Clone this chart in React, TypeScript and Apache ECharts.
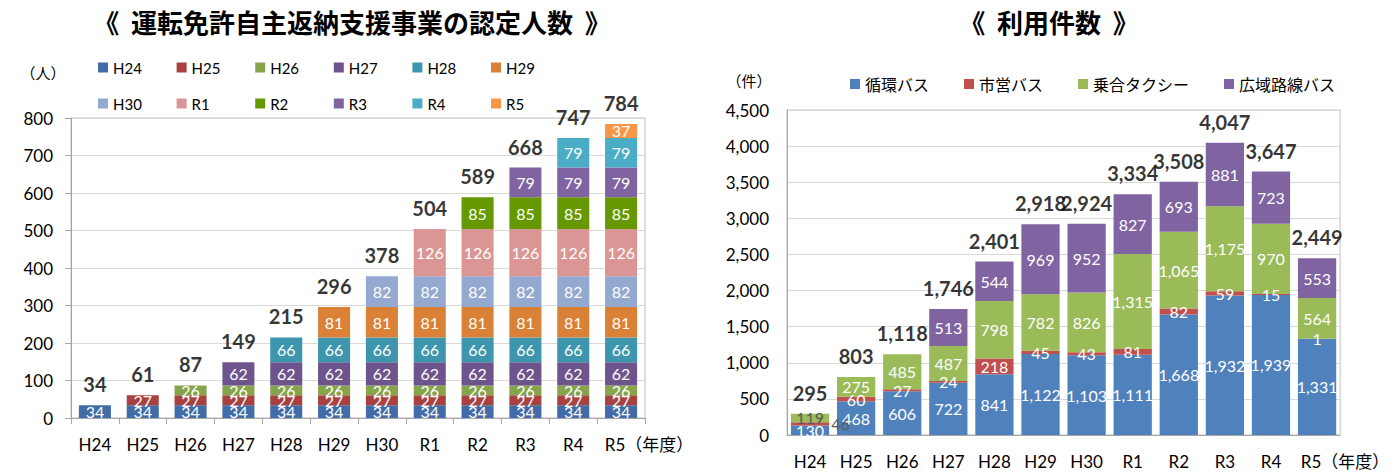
import React, { useEffect, useRef } from "react";
import * as echarts from "echarts";

const years = ["H24", "H25", "H26", "H27", "H28", "H29", "H30", "R1", "R2", "R3", "R4", "R5"];

// 運転免許自主返納支援事業の認定人数 (cohort series)
const cohortNames = ["H24", "H25", "H26", "H27", "H28", "H29", "H30", "R1", "R2", "R3", "R4", "R5"];
const cH24 = [34, 34, 34, 34, 34, 34, 34, 34, 34, 34, 34, 34];
const cH25 = [null, 27, 27, 27, 27, 27, 27, 27, 27, 27, 27, 27];
const cH26 = [null, null, 26, 26, 26, 26, 26, 26, 26, 26, 26, 26];
const cH27 = [null, null, null, 62, 62, 62, 62, 62, 62, 62, 62, 62];
const cH28 = [null, null, null, null, 66, 66, 66, 66, 66, 66, 66, 66];
const cH29 = [null, null, null, null, null, 81, 81, 81, 81, 81, 81, 81];
const cH30 = [null, null, null, null, null, null, 82, 82, 82, 82, 82, 82];
const cR1 = [null, null, null, null, null, null, null, 126, 126, 126, 126, 126];
const cR2 = [null, null, null, null, null, null, null, null, 85, 85, 85, 85];
const cR3 = [null, null, null, null, null, null, null, null, null, 79, 79, 79];
const cR4 = [null, null, null, null, null, null, null, null, null, null, 79, 79];
const cR5 = [null, null, null, null, null, null, null, null, null, null, null, 37];
const certTotals = [34, 61, 87, 149, 215, 296, 378, 504, 589, 668, 747, 784];
const cohortColors = ["#416CA7", "#A8423F", "#86A44A", "#6E548D", "#3D96AE", "#DA8137", "#93A9D0", "#D99694", "#669900", "#8064A2", "#4BACC6", "#F79646"];

// 利用件数
const usageNames = ["循環バス", "市営バス", "乗合タクシー", "広域路線バス"];
const loopBus = [130, 468, 606, 722, 841, 1122, 1103, 1111, 1668, 1932, 1939, 1331];
const cityBus = [46, 60, 27, 24, 218, 45, 43, 81, 82, 59, 15, 1];
const shareTaxi = [119, 275, 485, 487, 798, 782, 826, 1315, 1065, 1175, 970, 564];
const wideBus = [null, null, null, 513, 544, 969, 952, 827, 693, 881, 723, 553];
const usageTotals = [295, 803, 1118, 1746, 2401, 2918, 2924, 3334, 3508, 4047, 3647, 2449];
const usageColors = ["#4F81BD", "#C0504D", "#9BBB59", "#8064A2"];

const FONT = "Lato, 'Noto Sans CJK JP', sans-serif";
const JP = "'Noto Sans CJK JP', sans-serif";
const fmt = (v: number) => Number(v).toLocaleString("en-US");

export default function App() {
  const ref = useRef<HTMLDivElement>(null);
  useEffect(() => {
    if (!ref.current) return;
    const chart = echarts.init(ref.current, null, { renderer: "svg" });
    const cohortData = [cH24, cH25, cH26, cH27, cH28, cH29, cH30, cR1, cR2, cR3, cR4, cR5];
    const usageData = [loopBus, cityBus, shareTaxi, wideBus];

    const lastLabel = (v: string) => (v === "R5" ? "{p|}R5（年度）" : v);
    const xRich = { p: { width: 56 } };

    const leftSeries: any[] = cohortData.map((d, i) => ({
      name: cohortNames[i],
      type: "bar",
      stack: "cert",
      xAxisIndex: 0,
      yAxisIndex: 0,
      barCategoryGap: "33%",
      itemStyle: { color: cohortColors[i] },
      label: {
        show: true,
        position: "inside",
        color: "#fff",
        fontSize: 16,
        fontFamily: FONT,
      },
      data: d,
    }));
    leftSeries.push({
      name: "certTotal",
      type: "scatter",
      xAxisIndex: 0,
      yAxisIndex: 0,
      symbolSize: 1,
      itemStyle: { color: "transparent" },
      label: {
        show: true,
        position: "inside",
        offset: [0, -21],
        color: "#000",
        fontWeight: "bold",
        fontSize: 20,
        fontFamily: FONT,
      },
      z: 10,
      data: certTotals,
    });

    const rightSeries: any[] = usageData.map((d, i) => ({
      name: usageNames[i],
      type: "bar",
      stack: "usage",
      xAxisIndex: 1,
      yAxisIndex: 1,
      barCategoryGap: "17%",
      itemStyle: { color: usageColors[i] },
      label: {
        show: true,
        position: "inside",
        color: "#fff",
        fontSize: 16,
        fontFamily: FONT,
        formatter: (p: any) => fmt(p.value),
      },
      data: d.map((v, j) => {
        if (j === 0 && i === 1) return { value: v, label: { position: "right", color: "#595959", distance: 2 } };
        if (j === 0 && i === 2) return { value: v, label: { color: "#595959" } };
        return v;
      }),
    }));
    rightSeries.push({
      name: "usageTotal",
      type: "scatter",
      xAxisIndex: 1,
      yAxisIndex: 1,
      symbolSize: 1,
      itemStyle: { color: "transparent" },
      label: {
        show: true,
        position: "inside",
        offset: [0, -21],
        color: "#000",
        fontWeight: "bold",
        fontSize: 20,
        fontFamily: FONT,
        formatter: (p: any) => fmt(p.value),
      },
      z: 10,
      data: usageTotals,
    });

    // one legend per cohort so the entries sit in even columns like the reference
    const cohortLegends = cohortNames.map((n, i) => ({
      data: [n],
      left: 98 + (i % 6) * 78.6,
      top: i < 6 ? 60 : 96,
      itemWidth: 10,
      itemHeight: 10,
      icon: "rect",
      padding: 0,
      textStyle: { fontSize: 15, fontFamily: FONT, color: "#000" },
    }));

    chart.setOption({
      animation: false,
      textStyle: { fontFamily: FONT },
      graphic: [
        { type: "text", x: 352, y: 21, style: { text: "《  運転免許自主返納支援事業の認定人数  》", font: `bold 26px ${JP}`, fill: "#000", textAlign: "center", textVerticalAlign: "middle" } },
        { type: "text", x: 1049, y: 21, style: { text: "《  利用件数  》", font: `bold 26px ${JP}`, fill: "#000", textAlign: "center", textVerticalAlign: "middle" } },
        { type: "text", x: 43, y: 72, style: { text: "（人）", font: `15px ${JP}`, fill: "#000", textAlign: "center", textVerticalAlign: "middle" } },
        { type: "text", x: 749, y: 80, style: { text: "（件）", font: `15px ${JP}`, fill: "#000", textAlign: "center", textVerticalAlign: "middle" } },
      ],
      legend: [
        ...cohortLegends,
        {
          data: usageNames,
          left: 845,
          top: 71,
          itemWidth: 10,
          itemHeight: 10,
          itemGap: 35,
          icon: "rect",
          textStyle: { fontSize: 16, fontFamily: JP, color: "#000" },
        },
      ],
      grid: [
        { left: 71, right: 1392 - 645, top: 118, bottom: 475 - 418, show: true, borderColor: "#BFBFBF", borderWidth: 1 },
        { left: 787, right: 1392 - 1348, top: 110, bottom: 475 - 435, show: true, borderColor: "#BFBFBF", borderWidth: 1 },
      ],
      xAxis: [
        {
          type: "category",
          gridIndex: 0,
          data: years,
          axisLine: { lineStyle: { color: "#A6A6A6" } },
          axisTick: { show: true, length: 6, alignWithLabel: false, interval: 0, lineStyle: { color: "#A6A6A6" } },
          axisLabel: { interval: 0, fontSize: 17, color: "#000", margin: 18, fontFamily: FONT, formatter: lastLabel, rich: xRich },
        },
        {
          type: "category",
          gridIndex: 1,
          data: years,
          axisLine: { lineStyle: { color: "#A6A6A6" } },
          axisTick: { show: false },
          axisLabel: { interval: 0, fontSize: 17, color: "#000", margin: 18, fontFamily: FONT, formatter: lastLabel, rich: xRich },
        },
      ],
      yAxis: [
        {
          type: "value",
          gridIndex: 0,
          min: 0,
          max: 800,
          interval: 100,
          axisLine: { show: true, lineStyle: { color: "#A6A6A6" } },
          axisTick: { show: true, length: 6, lineStyle: { color: "#A6A6A6" } },
          splitLine: { lineStyle: { color: "#D9D9D9" } },
          axisLabel: { fontSize: 17, color: "#000", margin: 18, fontFamily: FONT },
        },
        {
          type: "value",
          gridIndex: 1,
          min: 0,
          max: 4500,
          interval: 500,
          axisLine: { show: true, lineStyle: { color: "#A6A6A6" } },
          axisTick: { show: false },
          splitLine: { lineStyle: { color: "#D9D9D9" } },
          axisLabel: { fontSize: 17, color: "#000", margin: 18, fontFamily: FONT, formatter: (v: number) => fmt(v) },
        },
      ],
      series: [...leftSeries, ...rightSeries],
    });
    return () => chart.dispose();
  }, []);
  return <div ref={ref} style={{ position: "fixed", left: 0, top: 0, width: 1392, height: 475, background: "#fff" }} />;
}
